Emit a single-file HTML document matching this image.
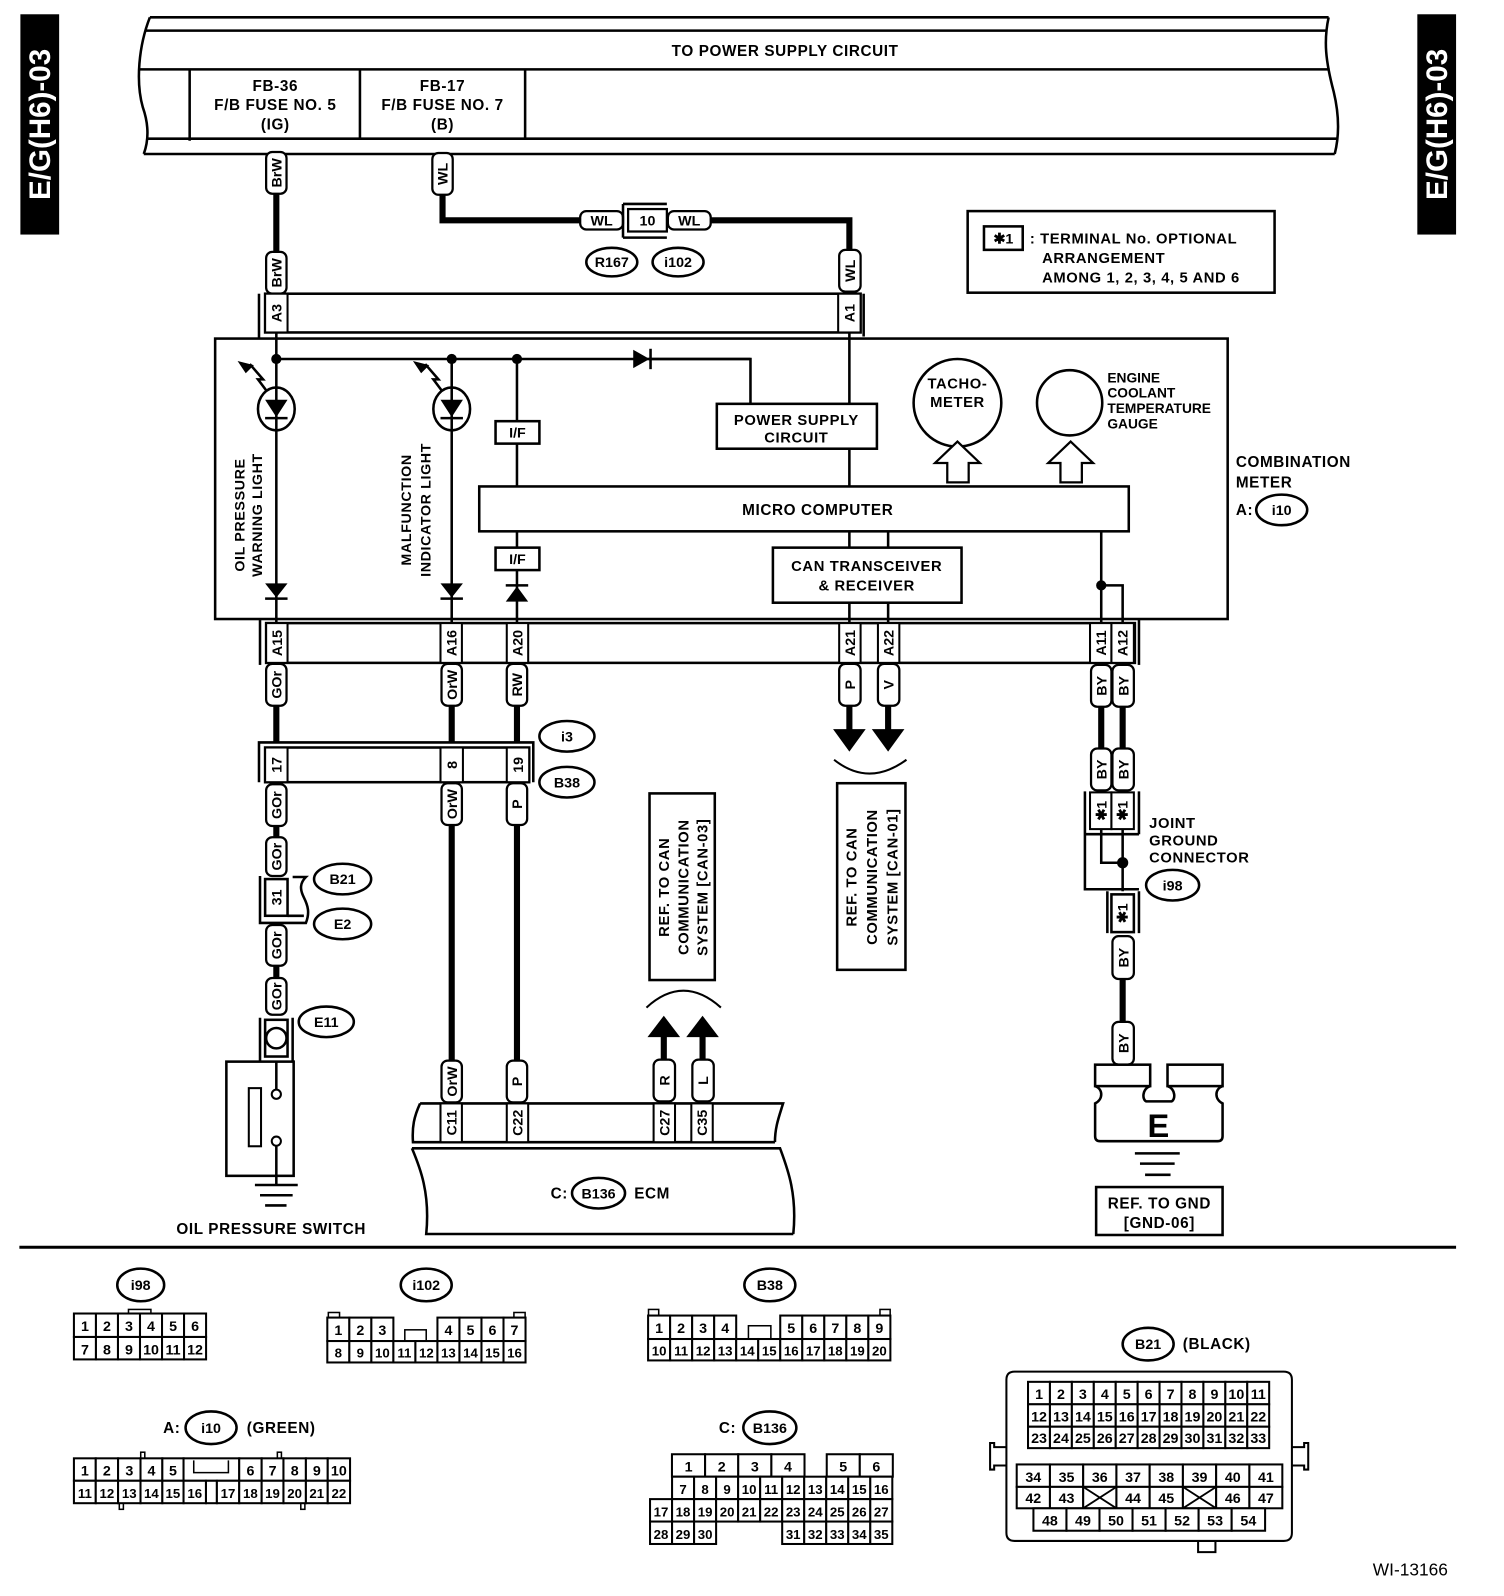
<!DOCTYPE html>
<html><head><meta charset="utf-8"><style>
html,body{margin:0;padding:0;background:#fff;}
svg{display:block;}
text{font-family:"Liberation Sans",Arial,sans-serif;font-weight:bold;fill:#000;}
.t{font-size:15px;letter-spacing:0.6px;}
.w{font-size:14px;text-anchor:middle;}
.n{font-size:13px;font-weight:normal;text-anchor:middle;}
.g rect,.cl rect{fill:#fff;stroke:#000;stroke-width:2;}
.lb{fill:#fff;stroke:#000;stroke-width:2.2;}
.s{fill:none;stroke:#000;stroke-width:2.5;}
.k{fill:none;stroke:#000;stroke-width:6;}
</style></head><body>
<svg width="1504" height="1596" viewBox="0 0 1475 1565" preserveAspectRatio="none" xmlns="http://www.w3.org/2000/svg">
<rect width="1475" height="1565" fill="#fff"/>
<!-- side tabs -->
<rect x="20" y="14" width="38" height="216" fill="#000"/>
<text transform="translate(49,122) rotate(-90)" text-anchor="middle" style="font-size:29px;fill:#fff">E/G(H6)-03</text>
<rect x="1390" y="14" width="38" height="216" fill="#000"/>
<text transform="translate(1419,122) rotate(-90)" text-anchor="middle" style="font-size:29px;fill:#fff">E/G(H6)-03</text>

<!-- top bar -->
<path class="s" d="M147,17 C136,45 133,80 140,105 C147,125 145,140 141,151"/>
<path class="s" d="M1303,17 C1298,40 1300,60 1308,90 C1314,115 1313,135 1309,151"/>
<line class="s" x1="147" y1="17" x2="1303" y2="17"/>
<line class="s" x1="143" y1="30" x2="1301" y2="30"/>
<line class="s" x1="137" y1="68" x2="1304" y2="68"/>
<line class="s" x1="145" y1="136" x2="1312" y2="136"/>
<line class="s" x1="141" y1="151" x2="1309" y2="151"/>
<line class="s" x1="186" y1="68" x2="186" y2="138"/>
<line class="s" x1="353" y1="68" x2="353" y2="136"/>
<line class="s" x1="515" y1="68" x2="515" y2="136"/>
<text class="t" x="770" y="55" text-anchor="middle">TO POWER SUPPLY CIRCUIT</text>
<g class="t" text-anchor="middle"><text x="270" y="89">FB-36</text><text x="270" y="108">F/B FUSE NO. 5</text><text x="270" y="127">(IG)</text>
<text x="434" y="89">FB-17</text><text x="434" y="108">F/B FUSE NO. 7</text><text x="434" y="127">(B)</text></g>

<!-- BrW wire -->
<line class="k" x1="271" y1="190" x2="271" y2="247"/>
<rect class="lb" x="261" y="149" width="20" height="41" rx="6"/><text class="w" transform="translate(276,169.5) rotate(-90)">BrW</text>
<rect class="lb" x="261" y="247" width="20" height="41" rx="6"/><text class="w" transform="translate(276,267.5) rotate(-90)">BrW</text>
<!-- WL wire -->
<path class="k" d="M434,190 V216 H570"/>
<path class="k" d="M697,216 H833 V246"/>
<rect class="lb" x="424" y="150" width="20" height="41" rx="6"/><text class="w" transform="translate(439,170.5) rotate(-90)">WL</text>
<rect class="lb" x="569" y="207" width="42" height="18" rx="6"/><text class="w" x="590" y="221">WL</text>
<path class="s" d="M611,200 V233 M611,200 H654 M611,233 H654"/>
<rect class="lb" x="616" y="205" width="38" height="22"/><text class="w" x="635" y="221">10</text>
<rect class="lb" x="655" y="207" width="42" height="18" rx="6"/><text class="w" x="676" y="221">WL</text>
<ellipse class="s" cx="600" cy="257" rx="25" ry="14"/><text class="w" x="600" y="262">R167</text>
<ellipse class="s" cx="665" cy="257" rx="25" ry="14"/><text class="w" x="665" y="262">i102</text>
<rect class="lb" x="823" y="245" width="21" height="41" rx="6"/><text class="w" transform="translate(838.5,265.5) rotate(-90)">WL</text>

<!-- note -->
<rect class="s" x="949" y="207" width="301" height="80"/>
<rect class="s" x="965" y="222" width="38" height="23"/>
<text class="w" x="984" y="239">✱1</text>
<g class="t" style="font-size:14.5px"><text x="1010" y="239">: TERMINAL No. OPTIONAL</text><text x="1022" y="258">ARRANGEMENT</text><text x="1022" y="277">AMONG 1, 2, 3, 4, 5 AND 6</text></g>

<!-- A3/A1 connector -->
<line class="s" x1="254" y1="288" x2="254" y2="332"/>
<line class="s" x1="847" y1="288" x2="847" y2="330"/>
<rect class="s" x="260" y="288" width="584" height="38"/>
<g class="cl"><rect x="260" y="288" width="22" height="38"/><rect x="822" y="288" width="22" height="38"/></g>
<text class="w" transform="translate(276,307) rotate(-90)">A3</text>
<text class="w" transform="translate(838,307) rotate(-90)">A1</text>

<!-- combination meter box -->
<rect class="s" x="211" y="332" width="993" height="275"/>
<line class="s" x1="271" y1="326" x2="271" y2="611"/>
<line class="s" x1="271" y1="352" x2="736" y2="352"/>
<path class="s" d="M636,352 H736 V396"/>
<path d="M621,343 L637,352 L621,361 Z" fill="#000"/><line class="s" x1="638" y1="342" x2="638" y2="362"/>
<circle cx="271" cy="352" r="5"/><circle cx="443" cy="352" r="5"/><circle cx="507" cy="352" r="5"/>
<line class="s" x1="443" y1="352" x2="443" y2="611"/>
<line class="s" x1="507" y1="352" x2="507" y2="477"/>
<line class="s" x1="507" y1="521" x2="507" y2="611"/>
<!-- LEDs -->
<g>
<ellipse class="s" cx="271" cy="401" rx="18" ry="21" style="fill:#fff"/>
<line class="s" x1="271" y1="380" x2="271" y2="422"/>
<path d="M260,392 L282,392 L271,409 Z"/><line class="s" x1="260" y1="410" x2="282" y2="410"/>
<path class="s" d="M262,384 L253,372 L258,372 L245,357" style="stroke-width:2.5"/><path d="M233,354 L249,358 L241,366 Z"/>
<ellipse class="s" cx="443" cy="401" rx="18" ry="21" style="fill:#fff"/>
<line class="s" x1="443" y1="380" x2="443" y2="422"/>
<path d="M432,392 L454,392 L443,409 Z"/><line class="s" x1="432" y1="410" x2="454" y2="410"/>
<path class="s" d="M434,384 L425,372 L430,372 L417,357" style="stroke-width:2.5"/><path d="M405,354 L421,358 L413,366 Z"/>
</g>
<path d="M260,572 L282,572 L271,586 Z"/><line class="s" x1="260" y1="587" x2="282" y2="587"/>
<path d="M432,572 L454,572 L443,586 Z"/><line class="s" x1="432" y1="587" x2="454" y2="587"/>
<path d="M496,590 L518,590 L507,575 Z"/><line class="s" x1="496" y1="574" x2="518" y2="574"/>
<g class="t" style="font-size:14px" text-anchor="middle">
<text transform="translate(240,505) rotate(-90)">OIL PRESSURE</text>
<text transform="translate(257,505) rotate(-90)">WARNING LIGHT</text>
<text transform="translate(403,500) rotate(-90)">MALFUNCTION</text>
<text transform="translate(422,500) rotate(-90)">INDICATOR LIGHT</text>
</g>
<rect class="s" x="486" y="413" width="43" height="22" style="fill:#fff"/><text class="w" x="507.5" y="429" style="font-size:14px">I/F</text>
<rect class="s" x="486" y="537" width="43" height="22" style="fill:#fff"/><text class="w" x="507.5" y="553" style="font-size:14px">I/F</text>
<!-- power supply circuit -->
<rect class="s" x="703" y="396" width="157" height="44"/>
<g class="t" text-anchor="middle" style="font-size:14.5px"><text x="781" y="417">POWER SUPPLY</text><text x="781" y="434">CIRCUIT</text></g>
<line class="s" x1="833" y1="326" x2="833" y2="396"/>
<line class="s" x1="833" y1="440" x2="833" y2="477"/>
<!-- micro computer -->
<rect class="s" x="470" y="477" width="637" height="44"/>
<text class="t" x="802" y="505" text-anchor="middle">MICRO COMPUTER</text>
<line class="s" x1="833" y1="521" x2="833" y2="537"/><line class="s" x1="871" y1="521" x2="871" y2="537"/>
<rect class="s" x="758" y="537" width="185" height="54"/>
<g class="t" text-anchor="middle" style="font-size:14.5px"><text x="850" y="560">CAN TRANSCEIVER</text><text x="850" y="579">&amp; RECEIVER</text></g>
<line class="s" x1="833" y1="591" x2="833" y2="611"/><line class="s" x1="871" y1="591" x2="871" y2="611"/>
<line class="s" x1="1080" y1="521" x2="1080" y2="611"/>
<path class="s" d="M1080,574 H1101 V611"/><circle cx="1080" cy="574" r="5"/>
<!-- gauges -->
<circle class="s" cx="939" cy="395" r="43"/>
<g class="t" text-anchor="middle" style="font-size:14.5px"><text x="939" y="381">TACHO-</text><text x="939" y="399">METER</text></g>
<circle class="s" cx="1049" cy="395" r="32"/>
<g class="t" style="font-size:13.5px;letter-spacing:0"><text x="1086" y="375">ENGINE</text><text x="1086" y="390">COOLANT</text><text x="1086" y="405">TEMPERATURE</text><text x="1086" y="420">GAUGE</text></g>
<path class="s" d="M939,433 L961,454 L950,454 L950,473 L929,473 L929,454 L917,454 Z" style="stroke-width:2.2;fill:#fff"/>
<path class="s" d="M1050,433 L1072,454 L1061,454 L1061,473 L1040,473 L1040,454 L1028,454 Z" style="stroke-width:2.2;fill:#fff"/>
<g class="t"><text x="1212" y="458">COMBINATION</text><text x="1212" y="478">METER</text><text x="1212" y="505">A:</text></g>
<ellipse class="s" cx="1257" cy="500" rx="25" ry="15"/><text class="w" x="1257" y="505">i10</text>

<!-- bottom meter connector -->
<line class="s" x1="255" y1="608" x2="255" y2="652"/>
<line class="s" x1="1117" y1="608" x2="1117" y2="652"/>
<rect class="s" x="261" y="611" width="852" height="39"/>
<g class="cl"><rect x="261" y="611" width="21" height="39"/><rect x="432" y="611" width="21" height="39"/><rect x="497" y="611" width="21" height="39"/><rect x="823" y="611" width="21" height="39"/><rect x="861" y="611" width="21" height="39"/><rect x="1069" y="611" width="21" height="39"/><rect x="1090" y="611" width="22" height="39"/></g>
<text class="w" transform="translate(276.5,630.5) rotate(-90)">A15</text>
<text class="w" transform="translate(447.5,630.5) rotate(-90)">A16</text>
<text class="w" transform="translate(512.5,630.5) rotate(-90)">A20</text>
<text class="w" transform="translate(838.5,630.5) rotate(-90)">A21</text>
<text class="w" transform="translate(876.5,630.5) rotate(-90)">A22</text>
<text class="w" transform="translate(1084.5,630.5) rotate(-90)">A11</text>
<text class="w" transform="translate(1106,630.5) rotate(-90)">A12</text>

<!-- wires below meter -->
<line class="k" x1="271" y1="692" x2="271" y2="728"/>
<line class="k" x1="443" y1="692" x2="443" y2="728"/>
<line class="k" x1="507" y1="692" x2="507" y2="728"/>
<g>
<rect class="lb" x="261" y="651" width="20" height="41" rx="6"/><text class="w" transform="translate(276,671.5) rotate(-90)">GOr</text>
<rect class="lb" x="433" y="651" width="20" height="41" rx="6"/><text class="w" transform="translate(448,671.5) rotate(-90)">OrW</text>
<rect class="lb" x="497" y="651" width="20" height="41" rx="6"/><text class="w" transform="translate(512,671.5) rotate(-90)">RW</text>
</g>
<!-- P / V arrows -->
<line class="k" x1="833" y1="692" x2="833" y2="718"/><line class="k" x1="871" y1="692" x2="871" y2="718"/>
<path d="M817,715 L849,715 L833,737 Z"/><path d="M855,715 L887,715 L871,737 Z"/>
<rect class="lb" x="823" y="651" width="21" height="41" rx="6"/><text class="w" transform="translate(838.5,671.5) rotate(-90)">P</text>
<rect class="lb" x="861" y="651" width="21" height="41" rx="6"/><text class="w" transform="translate(876.5,671.5) rotate(-90)">V</text>
<path class="s" d="M818,745 Q852,772 889,745" style="stroke-width:2"/>
<rect class="s" x="821" y="768" width="67" height="183"/>
<g class="t" text-anchor="middle" style="font-size:14.5px">
<text transform="translate(840,860) rotate(-90)">REF. TO CAN</text>
<text transform="translate(860,860) rotate(-90)">COMMUNICATION</text>
<text transform="translate(880,860) rotate(-90)">SYSTEM [CAN-01]</text>
</g>

<!-- i3 / B38 -->
<path class="s" d="M254,767 V728 H523 V767"/>
<rect class="s" x="260" y="733" width="259" height="34"/>
<g class="cl"><rect x="260" y="733" width="22" height="34"/><rect x="432" y="733" width="22" height="34"/><rect x="497" y="733" width="22" height="34"/></g>
<text class="w" transform="translate(276,750) rotate(-90)">17</text>
<text class="w" transform="translate(448,750) rotate(-90)">8</text>
<text class="w" transform="translate(513,750) rotate(-90)">19</text>
<ellipse class="s" cx="556" cy="722" rx="27" ry="15"/><text class="w" x="556" y="727">i3</text>
<ellipse class="s" cx="556" cy="767" rx="27" ry="15"/><text class="w" x="556" y="772">B38</text>

<!-- left GOr chain -->
<line class="k" x1="271" y1="810" x2="271" y2="823"/>
<line class="k" x1="271" y1="946" x2="271" y2="960"/>
<rect class="lb" x="261" y="769" width="20" height="41" rx="6"/><text class="w" transform="translate(276,789.5) rotate(-90)">GOr</text>
<rect class="lb" x="261" y="821" width="20" height="38" rx="6"/><text class="w" transform="translate(276,840) rotate(-90)">GOr</text>
<path class="s" d="M255,859 V905 H300 C304,895 302,888 298,880 C294,872 294,866 300,860 H287"/>
<rect class="s" x="260" y="862" width="22" height="36" style="fill:#fff"/>
<line class="s" x1="282" y1="898" x2="298" y2="898"/>
<text class="w" transform="translate(276,880) rotate(-90)">31</text>
<ellipse class="s" cx="336" cy="862" rx="28" ry="15"/><text class="w" x="336" y="867">B21</text>
<ellipse class="s" cx="336" cy="906" rx="28" ry="15"/><text class="w" x="336" y="911">E2</text>
<rect class="lb" x="261" y="907" width="20" height="40" rx="6"/><text class="w" transform="translate(276,927) rotate(-90)">GOr</text>
<rect class="lb" x="261" y="959" width="20" height="36" rx="6"/><text class="w" transform="translate(276,977) rotate(-90)">GOr</text>
<ellipse class="s" cx="320" cy="1002" rx="27" ry="15"/><text class="w" x="320" y="1007">E11</text>
<path class="s" d="M255,998 V1041 M287,998 V1041"/>
<rect class="s" x="260" y="1000" width="22" height="36"/>
<circle class="s" cx="271" cy="1018" r="10"/>
<!-- switch -->
<rect class="s" x="222" y="1041" width="66" height="112"/>
<rect class="s" x="244" y="1067" width="12" height="57" style="stroke-width:2"/>
<line class="s" x1="271" y1="1041" x2="271" y2="1069"/>
<circle class="s" cx="271" cy="1073" r="4.5" style="stroke-width:2"/>
<circle class="s" cx="271" cy="1119" r="4.5" style="stroke-width:2"/>
<line class="s" x1="271" y1="1123" x2="271" y2="1162"/>
<line class="s" x1="250" y1="1162" x2="292" y2="1162"/>
<line class="s" x1="255" y1="1172" x2="287" y2="1172"/>
<line class="s" x1="260" y1="1182" x2="281" y2="1182"/>
<text class="t" x="266" y="1210" text-anchor="middle">OIL PRESSURE SWITCH</text>

<!-- OrW / P long wires -->
<line class="k" x1="443" y1="809" x2="443" y2="1040"/>
<line class="k" x1="507" y1="809" x2="507" y2="1040"/>
<rect class="lb" x="433" y="768" width="20" height="41" rx="6"/><text class="w" transform="translate(448,788.5) rotate(-90)">OrW</text>
<rect class="lb" x="497" y="768" width="20" height="41" rx="6"/><text class="w" transform="translate(512,788.5) rotate(-90)">P</text>
<rect class="lb" x="433" y="1040" width="20" height="41" rx="6"/><text class="w" transform="translate(448,1060.5) rotate(-90)">OrW</text>
<rect class="lb" x="497" y="1040" width="20" height="41" rx="6"/><text class="w" transform="translate(512,1060.5) rotate(-90)">P</text>

<!-- CAN-03 -->
<rect class="s" x="637" y="778" width="64" height="183"/>
<g class="t" text-anchor="middle" style="font-size:14.5px">
<text transform="translate(656,870) rotate(-90)">REF. TO CAN</text>
<text transform="translate(675,870) rotate(-90)">COMMUNICATION</text>
<text transform="translate(694,870) rotate(-90)">SYSTEM [CAN-03]</text>
</g>
<path class="s" d="M634,988 Q670,955 707,988" style="stroke-width:2"/>
<path d="M635,1017 L667,1017 L651,996 Z"/><path d="M673,1017 L705,1017 L689,996 Z"/>
<line class="k" x1="651" y1="1015" x2="651" y2="1040"/><line class="k" x1="689" y1="1015" x2="689" y2="1040"/>
<rect class="lb" x="641" y="1039" width="21" height="41" rx="6"/><text class="w" transform="translate(656.5,1059.5) rotate(-90)">R</text>
<rect class="lb" x="679" y="1039" width="21" height="41" rx="6"/><text class="w" transform="translate(694.5,1059.5) rotate(-90)">L</text>

<!-- ECM -->
<path class="s" d="M412,1082 H768 C764,1095 760,1105 760,1120 M412,1082 C406,1095 404,1105 405,1120 H760"/>
<g class="cl"><rect x="432" y="1082" width="21" height="38"/><rect x="497" y="1082" width="21" height="38"/><rect x="641" y="1082" width="21" height="38"/><rect x="678" y="1082" width="21" height="38"/></g>
<text class="w" transform="translate(447.5,1101) rotate(-90)">C11</text>
<text class="w" transform="translate(512.5,1101) rotate(-90)">C22</text>
<text class="w" transform="translate(656.5,1101) rotate(-90)">C27</text>
<text class="w" transform="translate(693.5,1101) rotate(-90)">C35</text>
<path class="s" d="M404,1126 H765 C772,1145 782,1170 778,1210 M404,1126 C412,1145 422,1170 418,1210 H778"/>
<text class="t" x="540" y="1175">C:</text>
<ellipse class="s" cx="587" cy="1170" rx="26" ry="15"/><text class="w" x="587" y="1175">B136</text>
<text class="t" x="622" y="1175">ECM</text>

<!-- right BY chain -->
<line class="k" x1="1080" y1="692" x2="1080" y2="735"/><line class="k" x1="1101" y1="692" x2="1101" y2="735"/>
<rect class="lb" x="1070" y="652" width="20" height="41" rx="6"/><text class="w" transform="translate(1085,672.5) rotate(-90)">BY</text>
<rect class="lb" x="1091" y="652" width="21" height="41" rx="6"/><text class="w" transform="translate(1106.5,672.5) rotate(-90)">BY</text>
<rect class="lb" x="1070" y="734" width="20" height="41" rx="6"/><text class="w" transform="translate(1085,754.5) rotate(-90)">BY</text>
<rect class="lb" x="1091" y="734" width="21" height="41" rx="6"/><text class="w" transform="translate(1106.5,754.5) rotate(-90)">BY</text>
<path class="s" d="M1064,776 V872 H1117 M1117,776 V818 M1064,818 H1117"/>
<g class="cl"><rect x="1069" y="777" width="21" height="36"/><rect x="1090" y="777" width="22" height="36"/></g>
<text class="w" transform="translate(1085,795) rotate(-90)">✱1</text>
<text class="w" transform="translate(1106,795) rotate(-90)">✱1</text>
<path class="s" d="M1080,813 V846 H1101 M1101,813 V874"/><circle cx="1101" cy="846" r="5.5"/>
<path class="s" d="M1086,874 V915 M1117,874 V915"/>
<rect class="s" x="1090" y="877" width="22" height="37" style="fill:#fff"/>
<text class="w" transform="translate(1106,895.5) rotate(-90)">✱1</text>
<g class="t" style="font-size:14.5px"><text x="1127" y="812">JOINT</text><text x="1127" y="829">GROUND</text><text x="1127" y="846">CONNECTOR</text></g>
<ellipse class="s" cx="1150" cy="868" rx="26" ry="15"/><text class="w" x="1150" y="873">i98</text>
<line class="k" x1="1101" y1="960" x2="1101" y2="1003"/>
<rect class="lb" x="1091" y="918" width="21" height="42" rx="6"/><text class="w" transform="translate(1106.5,939) rotate(-90)">BY</text>
<rect class="lb" x="1091" y="1002" width="21" height="42" rx="6"/><text class="w" transform="translate(1106.5,1023) rotate(-90)">BY</text>
<!-- ground E -->
<rect class="s" x="1074" y="1044" width="54" height="21"/>
<rect class="s" x="1145" y="1044" width="54" height="21"/>
<path class="s" d="M1074,1065 C1082,1068 1082,1078 1074,1082 L1074,1114 Q1074,1119 1079,1119 H1194 Q1199,1119 1199,1114 L1199,1082 C1191,1078 1191,1068 1199,1065 M1128,1065 C1120,1068 1120,1078 1124,1080 H1149 C1153,1078 1153,1068 1145,1065"/>
<text x="1136" y="1115" text-anchor="middle" style="font-size:32px">E</text>
<line class="s" x1="1113" y1="1131" x2="1157" y2="1131"/>
<line class="s" x1="1118" y1="1141" x2="1152" y2="1141"/>
<line class="s" x1="1123" y1="1152" x2="1148" y2="1152"/>
<rect class="s" x="1075" y="1164" width="124" height="47"/>
<g class="t" text-anchor="middle"><text x="1137" y="1185">REF. TO GND</text><text x="1137" y="1204">[GND-06]</text></g>

<!-- separator -->
<line x1="19" y1="1223" x2="1428" y2="1223" stroke="#000" stroke-width="3"/>

<!-- i98 grid -->
<ellipse class="s" cx="138" cy="1260" rx="23" ry="16"/><text class="w" x="138" y="1265">i98</text>
<rect class="s" x="126" y="1284" width="22" height="5" style="stroke-width:1.5"/>
<g class="g"><rect x="72.5" y="1288" width="21.6" height="23"/><rect x="94.1" y="1288" width="21.6" height="23"/><rect x="115.7" y="1288" width="21.6" height="23"/><rect x="137.3" y="1288" width="21.6" height="23"/><rect x="158.9" y="1288" width="21.6" height="23"/><rect x="180.5" y="1288" width="21.6" height="23"/>
<rect x="72.5" y="1311" width="21.6" height="22"/><rect x="94.1" y="1311" width="21.6" height="22"/><rect x="115.7" y="1311" width="21.6" height="22"/><rect x="137.3" y="1311" width="21.6" height="22"/><rect x="158.9" y="1311" width="21.6" height="22"/><rect x="180.5" y="1311" width="21.6" height="22"/></g>
<g class="n" style="font-size:14px"><text x="83.3" y="1305">1</text><text x="104.9" y="1305">2</text><text x="126.5" y="1305">3</text><text x="148.1" y="1305">4</text><text x="169.7" y="1305">5</text><text x="191.3" y="1305">6</text>
<text x="83.3" y="1328">7</text><text x="104.9" y="1328">8</text><text x="126.5" y="1328">9</text><text x="148.1" y="1328">10</text><text x="169.7" y="1328">11</text><text x="191.3" y="1328">12</text></g>

<!-- i102 grid -->
<ellipse class="s" cx="418" cy="1260" rx="25" ry="16"/><text class="w" x="418" y="1265">i102</text>
<rect class="s" x="322" y="1287" width="11" height="5" style="stroke-width:1.5"/><rect class="s" x="504" y="1287" width="11" height="5" style="stroke-width:1.5"/>
<g class="g"><rect x="321" y="1292" width="21.6" height="23"/><rect x="342.6" y="1292" width="21.6" height="23"/><rect x="364.2" y="1292" width="21.6" height="23"/><rect x="429" y="1292" width="21.6" height="23"/><rect x="450.6" y="1292" width="21.6" height="23"/><rect x="472.2" y="1292" width="21.6" height="23"/><rect x="493.8" y="1292" width="21.6" height="23"/>
<rect x="321" y="1315" width="21.6" height="21"/><rect x="342.6" y="1315" width="21.6" height="21"/><rect x="364.2" y="1315" width="21.6" height="21"/><rect x="385.8" y="1315" width="21.6" height="21"/><rect x="407.4" y="1315" width="21.6" height="21"/><rect x="429" y="1315" width="21.6" height="21"/><rect x="450.6" y="1315" width="21.6" height="21"/><rect x="472.2" y="1315" width="21.6" height="21"/><rect x="493.8" y="1315" width="21.6" height="21"/></g>
<rect class="s" x="397" y="1304" width="21" height="11" style="stroke-width:1.5"/>
<g class="n" style="font-size:14px"><text x="331.8" y="1309">1</text><text x="353.4" y="1309">2</text><text x="375" y="1309">3</text><text x="439.8" y="1309">4</text><text x="461.4" y="1309">5</text><text x="483" y="1309">6</text><text x="504.6" y="1309">7</text></g>
<g class="n"><text x="331.8" y="1331">8</text><text x="353.4" y="1331">9</text><text x="375" y="1331">10</text><text x="396.6" y="1331">11</text><text x="418.2" y="1331">12</text><text x="439.8" y="1331">13</text><text x="461.4" y="1331">14</text><text x="483" y="1331">15</text><text x="504.6" y="1331">16</text></g>

<!-- B38 grid -->
<ellipse class="s" cx="755" cy="1260" rx="25" ry="16"/><text class="w" x="755" y="1265">B38</text>
<rect class="s" x="636" y="1284" width="10" height="6" style="stroke-width:1.5"/><rect class="s" x="863" y="1284" width="10" height="6" style="stroke-width:1.5"/>
<g class="g"><rect x="635.6" y="1290" width="21.6" height="23"/><rect x="657.2" y="1290" width="21.6" height="23"/><rect x="678.8" y="1290" width="21.6" height="23"/><rect x="700.4" y="1290" width="21.6" height="23"/><rect x="765.2" y="1290" width="21.6" height="23"/><rect x="786.8" y="1290" width="21.6" height="23"/><rect x="808.4" y="1290" width="21.6" height="23"/><rect x="830" y="1290" width="21.6" height="23"/><rect x="851.6" y="1290" width="21.6" height="23"/>
<rect x="635.6" y="1313" width="21.6" height="21"/><rect x="657.2" y="1313" width="21.6" height="21"/><rect x="678.8" y="1313" width="21.6" height="21"/><rect x="700.4" y="1313" width="21.6" height="21"/><rect x="722" y="1313" width="21.6" height="21"/><rect x="743.6" y="1313" width="21.6" height="21"/><rect x="765.2" y="1313" width="21.6" height="21"/><rect x="786.8" y="1313" width="21.6" height="21"/><rect x="808.4" y="1313" width="21.6" height="21"/><rect x="830" y="1313" width="21.6" height="21"/><rect x="851.6" y="1313" width="21.6" height="21"/></g>
<rect class="s" x="734" y="1300" width="22" height="13" style="stroke-width:1.5"/>
<g class="n" style="font-size:14px"><text x="646.4" y="1307">1</text><text x="668" y="1307">2</text><text x="689.6" y="1307">3</text><text x="711.2" y="1307">4</text><text x="776" y="1307">5</text><text x="797.6" y="1307">6</text><text x="819.2" y="1307">7</text><text x="840.8" y="1307">8</text><text x="862.4" y="1307">9</text></g>
<g class="n"><text x="646.4" y="1329">10</text><text x="668" y="1329">11</text><text x="689.6" y="1329">12</text><text x="711.2" y="1329">13</text><text x="732.8" y="1329">14</text><text x="754.4" y="1329">15</text><text x="776" y="1329">16</text><text x="797.6" y="1329">17</text><text x="819.2" y="1329">18</text><text x="840.8" y="1329">19</text><text x="862.4" y="1329">20</text></g>

<!-- A: i10 grid -->
<text class="t" x="160" y="1405">A:</text>
<ellipse class="s" cx="207" cy="1400" rx="25" ry="16"/><text class="w" x="207" y="1405">i10</text>
<text class="t" x="242" y="1405">(GREEN)</text>
<rect class="s" x="138" y="1424" width="4" height="6" style="stroke-width:1.5"/><rect class="s" x="272" y="1424" width="4" height="6" style="stroke-width:1.5"/>
<rect class="s" x="117" y="1474" width="4" height="6" style="stroke-width:1.5"/><rect class="s" x="295" y="1474" width="4" height="6" style="stroke-width:1.5"/>
<g class="g"><rect x="72.5" y="1430" width="21.4" height="22"/><rect x="93.9" y="1430" width="21.9" height="22"/><rect x="115.8" y="1430" width="22" height="22"/><rect x="137.8" y="1430" width="21.4" height="22"/><rect x="159.2" y="1430" width="20.8" height="22"/><rect x="180" y="1430" width="54.6" height="22"/><rect x="234.6" y="1430" width="22" height="22"/><rect x="256.6" y="1430" width="21.4" height="22"/><rect x="278" y="1430" width="22" height="22"/><rect x="300" y="1430" width="21.4" height="22"/><rect x="321.4" y="1430" width="21.9" height="22"/>
<rect x="72.5" y="1452" width="21.4" height="22"/><rect x="93.9" y="1452" width="21.9" height="22"/><rect x="115.8" y="1452" width="22" height="22"/><rect x="137.8" y="1452" width="21.4" height="22"/><rect x="159.2" y="1452" width="20.8" height="22"/><rect x="180" y="1452" width="22" height="22"/><rect x="202" y="1452" width="10.7" height="22"/><rect x="212.7" y="1452" width="21.9" height="22"/><rect x="234.6" y="1452" width="22" height="22"/><rect x="256.6" y="1452" width="21.4" height="22"/><rect x="278" y="1452" width="22" height="22"/><rect x="300" y="1452" width="21.4" height="22"/><rect x="321.4" y="1452" width="21.9" height="22"/></g>
<path class="s" d="M190,1432 V1444 H224 V1432" style="stroke-width:1.5"/>
<g class="n" style="font-size:14px"><text x="83.2" y="1447">1</text><text x="104.8" y="1447">2</text><text x="126.8" y="1447">3</text><text x="148.5" y="1447">4</text><text x="169.6" y="1447">5</text><text x="245.6" y="1447">6</text><text x="267.3" y="1447">7</text><text x="289" y="1447">8</text><text x="310.7" y="1447">9</text><text x="332.3" y="1447">10</text></g>
<g class="n"><text x="83.2" y="1469">11</text><text x="104.8" y="1469">12</text><text x="126.8" y="1469">13</text><text x="148.5" y="1469">14</text><text x="169.6" y="1469">15</text><text x="191" y="1469">16</text><text x="223.6" y="1469">17</text><text x="245.6" y="1469">18</text><text x="267.3" y="1469">19</text><text x="289" y="1469">20</text><text x="310.7" y="1469">21</text><text x="332.3" y="1469">22</text></g>

<!-- C: B136 grid -->
<text class="t" x="705" y="1405">C:</text>
<ellipse class="s" cx="755" cy="1400" rx="26" ry="16"/><text class="w" x="755" y="1405">B136</text>
<g class="g">
<rect x="659" y="1426" width="32.5" height="22"/><rect x="691.5" y="1426" width="32.5" height="22"/><rect x="724" y="1426" width="32.5" height="22"/><rect x="756.5" y="1426" width="32.5" height="22"/><rect x="810.8" y="1426" width="32.4" height="22"/><rect x="843.2" y="1426" width="32.4" height="22"/>
<rect x="659.1" y="1448" width="21.6" height="22"/><rect x="680.7" y="1448" width="21.6" height="22"/><rect x="702.3" y="1448" width="21.6" height="22"/><rect x="723.9" y="1448" width="21.6" height="22"/><rect x="745.5" y="1448" width="21.6" height="22"/><rect x="767.1" y="1448" width="21.6" height="22"/><rect x="788.7" y="1448" width="21.6" height="22"/><rect x="810.3" y="1448" width="21.6" height="22"/><rect x="831.9" y="1448" width="21.6" height="22"/><rect x="853.5" y="1448" width="21.6" height="22"/>
<rect x="637.5" y="1470" width="21.6" height="22"/><rect x="659.1" y="1470" width="21.6" height="22"/><rect x="680.7" y="1470" width="21.6" height="22"/><rect x="702.3" y="1470" width="21.6" height="22"/><rect x="723.9" y="1470" width="21.6" height="22"/><rect x="745.5" y="1470" width="21.6" height="22"/><rect x="767.1" y="1470" width="21.6" height="22"/><rect x="788.7" y="1470" width="21.6" height="22"/><rect x="810.3" y="1470" width="21.6" height="22"/><rect x="831.9" y="1470" width="21.6" height="22"/><rect x="853.5" y="1470" width="21.6" height="22"/>
<rect x="637.5" y="1492" width="21.6" height="22"/><rect x="659.1" y="1492" width="21.6" height="22"/><rect x="680.7" y="1492" width="21.6" height="22"/><rect x="767.1" y="1492" width="21.6" height="22"/><rect x="788.7" y="1492" width="21.6" height="22"/><rect x="810.3" y="1492" width="21.6" height="22"/><rect x="831.9" y="1492" width="21.6" height="22"/><rect x="853.5" y="1492" width="21.6" height="22"/></g>
<g class="n" style="font-size:14px"><text x="675.3" y="1443">1</text><text x="707.8" y="1443">2</text><text x="740.3" y="1443">3</text><text x="772.8" y="1443">4</text><text x="827" y="1443">5</text><text x="859.4" y="1443">6</text></g>
<g class="n"><text x="669.9" y="1465">7</text><text x="691.5" y="1465">8</text><text x="713.1" y="1465">9</text><text x="734.7" y="1465">10</text><text x="756.3" y="1465">11</text><text x="777.9" y="1465">12</text><text x="799.5" y="1465">13</text><text x="821.1" y="1465">14</text><text x="842.7" y="1465">15</text><text x="864.3" y="1465">16</text>
<text x="648.3" y="1487">17</text><text x="669.9" y="1487">18</text><text x="691.5" y="1487">19</text><text x="713.1" y="1487">20</text><text x="734.7" y="1487">21</text><text x="756.3" y="1487">22</text><text x="777.9" y="1487">23</text><text x="799.5" y="1487">24</text><text x="821.1" y="1487">25</text><text x="842.7" y="1487">26</text><text x="864.3" y="1487">27</text>
<text x="648.3" y="1509">28</text><text x="669.9" y="1509">29</text><text x="691.5" y="1509">30</text><text x="777.9" y="1509">31</text><text x="799.5" y="1509">32</text><text x="821.1" y="1509">33</text><text x="842.7" y="1509">34</text><text x="864.3" y="1509">35</text></g>

<!-- B21 big -->
<ellipse class="s" cx="1126" cy="1318" rx="25" ry="16"/><text class="w" x="1126" y="1323">B21</text>
<text class="t" x="1160" y="1323">(BLACK)</text>
<path class="s" d="M995,1345 H1259 Q1267,1345 1267,1353 V1503 Q1267,1511 1259,1511 H995 Q987,1511 987,1503 V1353 Q987,1345 995,1345 Z" style="stroke-width:2"/>
<path class="s" d="M987,1419 H975 V1415 H971 V1441 H975 V1437 H987" style="stroke-width:2"/>
<path class="s" d="M1267,1419 H1279 V1415 H1283 V1441 H1279 V1437 H1267" style="stroke-width:2"/>
<path class="s" d="M1175,1511 V1522 H1192 V1511" style="stroke-width:2"/>
<g class="g">
<rect x="1008.2" y="1355" width="21.5" height="22"/><rect x="1029.7" y="1355" width="21.5" height="22"/><rect x="1051.2" y="1355" width="21.5" height="22"/><rect x="1072.7" y="1355" width="21.5" height="22"/><rect x="1094.2" y="1355" width="21.5" height="22"/><rect x="1115.7" y="1355" width="21.5" height="22"/><rect x="1137.2" y="1355" width="21.5" height="22"/><rect x="1158.7" y="1355" width="21.5" height="22"/><rect x="1180.2" y="1355" width="21.5" height="22"/><rect x="1201.7" y="1355" width="21.5" height="22"/><rect x="1223.2" y="1355" width="21.5" height="22"/>
<rect x="1008.2" y="1377" width="21.5" height="22"/><rect x="1029.7" y="1377" width="21.5" height="22"/><rect x="1051.2" y="1377" width="21.5" height="22"/><rect x="1072.7" y="1377" width="21.5" height="22"/><rect x="1094.2" y="1377" width="21.5" height="22"/><rect x="1115.7" y="1377" width="21.5" height="22"/><rect x="1137.2" y="1377" width="21.5" height="22"/><rect x="1158.7" y="1377" width="21.5" height="22"/><rect x="1180.2" y="1377" width="21.5" height="22"/><rect x="1201.7" y="1377" width="21.5" height="22"/><rect x="1223.2" y="1377" width="21.5" height="22"/>
<rect x="1008.2" y="1399" width="21.5" height="21"/><rect x="1029.7" y="1399" width="21.5" height="21"/><rect x="1051.2" y="1399" width="21.5" height="21"/><rect x="1072.7" y="1399" width="21.5" height="21"/><rect x="1094.2" y="1399" width="21.5" height="21"/><rect x="1115.7" y="1399" width="21.5" height="21"/><rect x="1137.2" y="1399" width="21.5" height="21"/><rect x="1158.7" y="1399" width="21.5" height="21"/><rect x="1180.2" y="1399" width="21.5" height="21"/><rect x="1201.7" y="1399" width="21.5" height="21"/><rect x="1223.2" y="1399" width="21.5" height="21"/>
<rect x="997.1" y="1436" width="32.6" height="22"/><rect x="1029.7" y="1436" width="32.6" height="22"/><rect x="1062.3" y="1436" width="32.6" height="22"/><rect x="1094.9" y="1436" width="32.6" height="22"/><rect x="1127.5" y="1436" width="32.6" height="22"/><rect x="1160.1" y="1436" width="32.6" height="22"/><rect x="1192.7" y="1436" width="32.6" height="22"/><rect x="1225.3" y="1436" width="32.3" height="22"/>
<rect x="997.1" y="1458" width="32.6" height="21"/><rect x="1029.7" y="1458" width="32.6" height="21"/><rect x="1062.3" y="1458" width="32.6" height="21"/><rect x="1094.9" y="1458" width="32.6" height="21"/><rect x="1127.5" y="1458" width="32.6" height="21"/><rect x="1160.1" y="1458" width="32.6" height="21"/><rect x="1192.7" y="1458" width="32.6" height="21"/><rect x="1225.3" y="1458" width="32.3" height="21"/>
<rect x="1013.5" y="1479" width="32.4" height="22"/><rect x="1045.9" y="1479" width="32.4" height="22"/><rect x="1078.3" y="1479" width="32.4" height="22"/><rect x="1110.7" y="1479" width="32.4" height="22"/><rect x="1143.1" y="1479" width="32.4" height="22"/><rect x="1175.5" y="1479" width="32.4" height="22"/><rect x="1207.9" y="1479" width="32.8" height="22"/></g>
<path d="M1062.3,1458 L1094.9,1479 M1094.9,1458 L1062.3,1479 M1160.1,1458 L1192.7,1479 M1192.7,1458 L1160.1,1479" stroke="#000" stroke-width="1.8"/>
<g class="n" style="font-size:14px"><text x="1019" y="1372">1</text><text x="1040.5" y="1372">2</text><text x="1062" y="1372">3</text><text x="1083.5" y="1372">4</text><text x="1105" y="1372">5</text><text x="1126.5" y="1372">6</text><text x="1148" y="1372">7</text><text x="1169.5" y="1372">8</text><text x="1191" y="1372">9</text><text x="1212.5" y="1372">10</text><text x="1234" y="1372">11</text>
<text x="1019" y="1394">12</text><text x="1040.5" y="1394">13</text><text x="1062" y="1394">14</text><text x="1083.5" y="1394">15</text><text x="1105" y="1394">16</text><text x="1126.5" y="1394">17</text><text x="1148" y="1394">18</text><text x="1169.5" y="1394">19</text><text x="1191" y="1394">20</text><text x="1212.5" y="1394">21</text><text x="1234" y="1394">22</text>
<text x="1019" y="1415">23</text><text x="1040.5" y="1415">24</text><text x="1062" y="1415">25</text><text x="1083.5" y="1415">26</text><text x="1105" y="1415">27</text><text x="1126.5" y="1415">28</text><text x="1148" y="1415">29</text><text x="1169.5" y="1415">30</text><text x="1191" y="1415">31</text><text x="1212.5" y="1415">32</text><text x="1234" y="1415">33</text>
<text x="1013.4" y="1453">34</text><text x="1046" y="1453">35</text><text x="1078.6" y="1453">36</text><text x="1111.2" y="1453">37</text><text x="1143.8" y="1453">38</text><text x="1176.4" y="1453">39</text><text x="1209" y="1453">40</text><text x="1241.5" y="1453">41</text>
<text x="1013.4" y="1474">42</text><text x="1046" y="1474">43</text><text x="1111.2" y="1474">44</text><text x="1143.8" y="1474">45</text><text x="1209" y="1474">46</text><text x="1241.5" y="1474">47</text>
<text x="1029.7" y="1496">48</text><text x="1062.1" y="1496">49</text><text x="1094.5" y="1496">50</text><text x="1126.9" y="1496">51</text><text x="1159.3" y="1496">52</text><text x="1191.7" y="1496">53</text><text x="1224.3" y="1496">54</text></g>

<text x="1420" y="1545" text-anchor="end" style="font-size:17px;font-weight:normal">WI-13166</text>
</svg>
</body></html>
